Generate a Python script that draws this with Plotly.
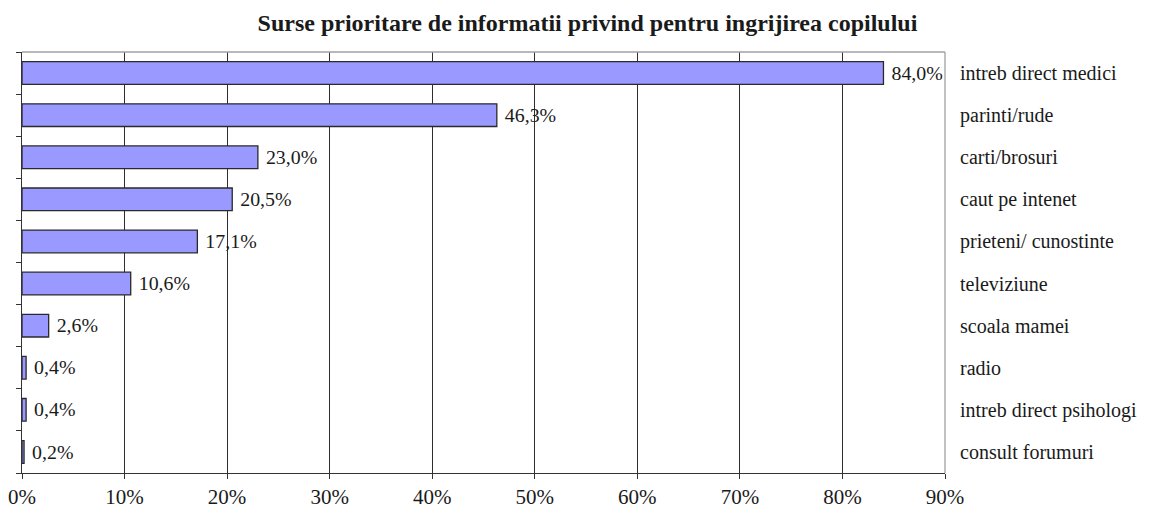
import plotly.graph_objects as go

categories = ['intreb direct medici', 'parinti/rude', 'carti/brosuri', 'caut pe intenet',
              'prieteni/ cunostinte', 'televiziune', 'scoala mamei', 'radio',
              'intreb direct psihologi', 'consult forumuri']
values = [84.0, 46.3, 23.0, 20.5, 17.1, 10.6, 2.6, 0.4, 0.4, 0.2]
x_ticks = [0, 10, 20, 30, 40, 50, 60, 70, 80, 90]

font_fam = 'Liberation Serif, Times New Roman, serif'
ink = '#1a1a1a'

fig = go.Figure()

fig.add_trace(go.Bar(x=values, y=categories, orientation='h',
                     marker=dict(color='#9999ff', line=dict(color='#2a2a2a', width=1.3)),
                     width=0.54,
                     texttemplate=' %{x:.1f}%', textposition='outside',
                     textfont=dict(family=font_fam, size=21, color=ink),
                     cliponaxis=False, showlegend=False, hoverinfo='skip'))

# dummy trace so the left boundary-tick axis gets drawn
fig.add_trace(go.Scatter(x=[0], y=[0], yaxis='y2', mode='markers',
                         marker=dict(opacity=0), showlegend=False, hoverinfo='skip'))

n = len(categories)
# page body has an 8px margin, so the figure is a bit smaller than the window
fig.update_layout(
    width=1143, height=504,
    paper_bgcolor='white', plot_bgcolor='white',
    separators=',.',
    margin=dict(l=14, r=206, t=44, b=39),
    title=dict(text='<b>Surse prioritare de informatii privind pentru ingrijirea copilului</b>',
               x=0.507, xanchor='center', y=0.972, yanchor='middle',
               font=dict(family=font_fam, size=24, color=ink)),
    font=dict(family=font_fam, color=ink),
    xaxis=dict(range=[0, 90], tickvals=x_ticks, ticktext=[f'{t}%' for t in x_ticks],
               automargin=False,
               showgrid=True, gridcolor='#2e2e2e', gridwidth=1.4,
               zeroline=False, showline=True, linecolor='#333333', linewidth=1.3,
               ticks='outside', ticklen=5, tickcolor='#333333',
               tickfont=dict(family=font_fam, size=21, color=ink)),
    yaxis=dict(type='category', categoryorder='array', categoryarray=categories,
               range=[n - 0.5, -0.5], side='right', showgrid=False, zeroline=False,
               automargin=False,
               showline=False, ticks='', ticklabelstandoff=14,
               tickfont=dict(family=font_fam, size=20, color=ink)),
    yaxis2=dict(overlaying='y', side='left', range=[n - 0.5, -0.5],
                automargin=False,
                tickvals=[i - 0.5 for i in range(n + 1)], showticklabels=False,
                ticks='outside', ticklen=5, tickcolor='#333333',
                showgrid=False, zeroline=False, showline=True,
                linecolor='#333333', linewidth=1.3),
    shapes=[
        dict(type='line', xref='paper', yref='paper', x0=0, x1=1, y0=1, y1=1,
             line=dict(color='#a0a0a0', width=1.3), layer='above'),
        dict(type='line', xref='paper', yref='paper', x0=1, x1=1, y0=0, y1=1,
             line=dict(color='#a0a0a0', width=1.3), layer='above'),
    ],
)

fig.write_html('out.html')
